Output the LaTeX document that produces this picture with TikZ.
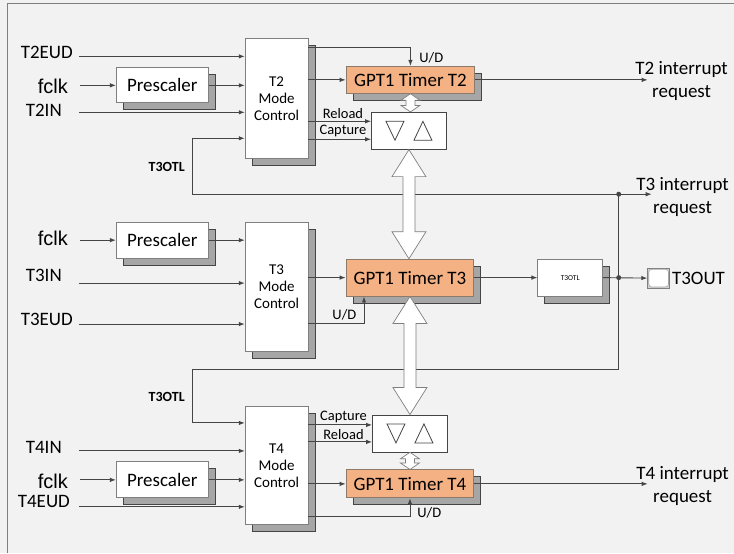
\documentclass[tikz,border=0pt]{standalone}
\usepackage{fontspec}
\setmainfont{Carlito}
\newfontfamily\arialfont{Liberation Sans}
\usepackage{tikz}
\usetikzlibrary{arrows.meta,shapes,shadows,calc,positioning}

\definecolor{paper}{HTML}{F2F2F2}
\definecolor{linec}{HTML}{454545}
\definecolor{boxc}{HTML}{7F7F7F}
\definecolor{shadc}{HTML}{A6A6A6}
\definecolor{orangec}{HTML}{F4B183}
\definecolor{timerc}{HTML}{8C7A6B}

\newcommand{\sigfont}{\fontsize{19}{23}\selectfont}
\newcommand{\modefont}{\fontsize{15}{17}\selectfont}
\newcommand{\smallfnt}{\fontsize{14.5}{16}\selectfont}
\newcommand{\otlfont}{\fontsize{14}{16}\selectfont\bfseries}
\newcommand{\tinyfnt}{\fontsize{7.5}{9}\selectfont}

% hollow double arrow, top anchor to bottom anchor
\newcommand{\fatarrow}[5]{%
\path[fat] let \p1=(#1), \p2=(#2) in
 (\x1,\y1) -- (\x1+#3,\y1-#5) -- (\x1+#4,\y1-#5) -- (\x1+#4,\y2+#5)
 -- (\x1+#3,\y2+#5) -- (\x1,\y2) -- (\x1-#3,\y2+#5) -- (\x1-#4,\y2+#5)
 -- (\x1-#4,\y1-#5) -- (\x1-#3,\y1-#5) -- cycle;}

\begin{document}
\begin{tikzpicture}[x=1pt,y=-1pt]
\tikzstyle{box}=[draw=boxc,fill=white,line width=0.8pt,inner sep=0pt,
  general shadow={fill=shadc,shadow xshift=7pt,shadow yshift=-7pt}];
\tikzstyle{timer}=[box,draw=timerc,fill=orangec,font=\sigfont];
\tikzstyle{mode}=[box,minimum width=63pt,align=center,font=\modefont];
\tikzstyle{cmpbox}=[draw=linec,fill=white,line width=0.8pt,minimum width=75pt,minimum height=37pt];
\tikzstyle{sig}=[inner sep=0pt,font=\sigfont];
\tikzstyle{small}=[inner sep=2pt,font=\smallfnt];
\tikzstyle{fat}=[draw=boxc,fill=white,line width=0.7pt];
\tikzstyle{tri}=[draw=linec,line width=0.8pt];
\tikzset{every path/.append style={draw=linec,line width=0.9pt},
  ->/.tip={Latex[length=6pt,width=4.5pt]}}

\useasboundingbox (0,0) rectangle (734,553);
\fill[paper,draw=none] (0,0) rectangle (734,553);
\draw[boxc,line width=1.2pt] (7,553) -- (7,3) -- (734,3);

% T2 part
\node[box,minimum width=92pt,minimum height=35pt,font=\sigfont] (ps2) at (162,85) {Prescaler};
\node[mode,minimum height=120pt] (mc2) at (276.5,98) {T2\\Mode\\Control};
\node[timer,minimum width=129pt,minimum height=27pt] (tim2) at (410.5,79.5) {GPT1 Timer T2};
\node[cmpbox] (cmp2) at (409,130.5) {};

\node[sig,anchor=west] (t2eud) at (20,52) {T2EUD};
\node[sig,anchor=west,font=\arialfont\fontsize{20}{23}\selectfont] (fclk2) at (37,86) {fclk};
\node[sig,anchor=west] (t2in) at (25,110) {T2IN};
\node[inner sep=0pt,font=\otlfont,anchor=west] (otl2) at (148,167) {T3OTL};
\node[inner sep=0pt,font=\smallfnt,anchor=west] (ud2) at (419,57.5) {U/D};
\node[sig,align=center] (irq2-txt) at (682,81) {T2 interrupt\\request};

% T3 part
\node[box,minimum width=92pt,minimum height=36pt,font=\sigfont] (ps3) at (162,240) {Prescaler};
\node[mode,minimum height=129pt] (mc3) at (276.5,286.5) {T3\\Mode\\Control};
\node[timer,minimum width=128pt,minimum height=37pt] (tim3) at (410,277.5) {GPT1 Timer T3};
\node[box,minimum width=65pt,minimum height=37pt,font=\tinyfnt] (otl) at (570.5,277.5) {T3OTL};
\node[draw=boxc,fill=gray!35,line width=0.8pt,minimum width=22pt,minimum height=20pt,inner sep=0pt] (pad) at (659,278) {};
\node[sig,anchor=west] (t3out) at (672,278) {T3OUT};

\node[sig,anchor=west,font=\arialfont\fontsize{20}{23}\selectfont] (fclk3) at (37,238) {fclk};
\node[sig,anchor=west] (t3in) at (25,275) {T3IN};
\node[sig,anchor=west] (t3eud) at (20,319) {T3EUD};
\node[inner sep=0pt,font=\smallfnt,anchor=west] (ud3) at (332,315) {U/D};
\node[sig,align=center] (irq3-txt) at (683,197) {T3 interrupt\\request};

% T4 part
\node[mode,minimum height=119pt] (mc4) at (276.5,465.5) {T4\\Mode\\Control};
\node[cmpbox] (cmp4) at (410,433.5) {};
\node[timer,minimum width=128pt,minimum height=28pt] (tim4) at (410,484) {GPT1 Timer T4};
\node[box,minimum width=92pt,minimum height=36pt,font=\sigfont] (ps4) at (162,480) {Prescaler};

\node[inner sep=0pt,font=\otlfont,anchor=west] (otl4) at (148,397) {T3OTL};
\node[sig,anchor=west] (t4in) at (25,447) {T4IN};
\node[sig,anchor=west,font=\arialfont\fontsize{20}{23}\selectfont] (fclk4) at (37,481) {fclk};
\node[sig,anchor=west] (t4eud) at (17,502) {T4EUD};
\node[inner sep=0pt,font=\smallfnt,anchor=west] (ud4) at (417,513) {U/D};
\node[sig,align=center] (irq4-txt) at (683,486) {T4 interrupt\\request};

% pad inside
\draw[fill=white,draw=gray!70,line width=0.6pt,rounded corners=3pt] ($(pad.north west)+(1.5,1.5)$) rectangle ($(pad.south east)+(-1.5,-1.5)$);

% compare triangles
\draw[tri] ($(cmp2)+(-23,-9.5)$) -- ++(18,0) -- ++(-9,19) -- cycle;
\draw[tri] ($(cmp2)+(5,9.5)$) -- ++(18,0) -- ++(-9,-19) -- cycle;
\draw[tri] ($(cmp4)+(-23,-9.5)$) -- ++(18,0) -- ++(-9,19) -- cycle;
\draw[tri] ($(cmp4)+(5,9.5)$) -- ++(18,0) -- ++(-9,-19) -- cycle;

% coordinates
\coordinate (in-t2eud) at (79,56);
\coordinate (in-fclk2) at (80,85);
\coordinate (in-t2in) at (79,112);
\coordinate (in-fclk3) at (80,240);
\coordinate (in-t3in) at (79,283);
\coordinate (in-t3eud) at (79,324);
\coordinate (in-t4in) at (79,451);
\coordinate (in-fclk4) at (80,480);
\coordinate (in-t4eud) at (79,507);
\coordinate (j1) at (619,194);
\coordinate (j2) at (j1 |- otl.east);
\coordinate (fb2) at (192,138);
\coordinate (fb4a) at (192,369);
\coordinate (fb4) at (192,423);
\coordinate (irq2) at (648,79.5);
\coordinate (irq3) at (652,194);
\coordinate (irq4) at (648,484);
\coordinate (rl2) at ([yshift=9.5pt]cmp2.west);
\coordinate (cp2) at ([yshift=-8.5pt]cmp2.west);
\coordinate (cp4) at ([yshift=8.5pt]cmp4.west);
\coordinate (rl4) at ([yshift=-8.5pt]cmp4.west);

% T2 lines
\path[draw] [->] (in-t2eud) -- (mc2.west |- in-t2eud);
\path[draw] [->] (in-fclk2) -- (ps2.west);
\path[draw] [->] (ps2.east) -- (mc2.west |- ps2.east);
\path[draw] [->] (in-t2in) -- (mc2.west |- in-t2in);
\path[draw] [->] (j1) -| (fb2) -- (mc2.west |- fb2);
\path[draw] [->] ([yshift=-9pt]mc2.north east) -| (tim2.north);
\path[draw] [->] (mc2.east |- tim2.west) -- (tim2.west);
\path[draw] [->] (mc2.east |- rl2) -- node[small,above,pos=0.55] (rl2-txt) {Reload} (rl2);
\path[draw] [->] (mc2.east |- cp2) -- node[small,above,pos=0.55] (cp2-txt) {Capture} (cp2);
\path[draw] [->] (tim2.east) -- (irq2);

% T3 lines
\path[draw] [->] (in-fclk3) -- (ps3.west);
\path[draw] [->] (ps3.east) -- (mc3.west |- ps3.east);
\path[draw] [->] (in-t3in) -- (mc3.west |- in-t3in);
\path[draw] [->] (in-t3eud) -- (mc3.west |- in-t3eud);
\path[draw] [->] (mc3.east |- tim3.west) -- (tim3.west);
\path[draw] [->] ([yshift=28pt]mc3.south east) -| ([xshift=-46pt]tim3.south);
\path[draw] [->] (tim3.east) -- (otl.west);
\path[draw] [->] (otl.east) -- (pad.west);
\path[draw] [->] (j1) -- (irq3);
\path[draw] [->] (j1) |- (fb4a) -- (fb4) -- (mc4.west |- fb4);
\fill[linec] (j1) circle (2pt);
\fill[linec] (j2) circle (2pt);

% T4 lines
\path[draw] [->] (mc4.east |- cp4) -- node[small,above,pos=0.55] (cp4-txt) {Capture} (cp4);
\path[draw] [->] (mc4.east |- rl4) -- node[small,above,pos=0.55] (rl4-txt) {Reload} (rl4);
\path[draw] [->] (in-t4in) -- (mc4.west |- in-t4in);
\path[draw] [->] (in-fclk4) -- (ps4.west);
\path[draw] [->] (ps4.east) -- (mc4.west |- ps4.east);
\path[draw] [->] (in-t4eud) -- (mc4.west |- in-t4eud);
\path[draw] [->] (mc4.east |- tim4.west) -- (tim4.west);
\path[draw] [->] ([yshift=9pt]mc4.south east) -| (tim4.south);
\path[draw] [->] (tim4.east) -- (irq4);

% double arrows
\fatarrow{tim2.south}{cmp2.north}{9.5pt}{4.5pt}{6.5pt}
\fatarrow{cmp4.south}{tim4.north}{9.5pt}{4.5pt}{6.5pt}
\fatarrow{cmp2.south}{tim3.north}{17pt}{6pt}{27pt}
\fatarrow{tim3.south}{cmp4.north}{17pt}{6pt}{27pt}
\end{tikzpicture}
\end{document}
